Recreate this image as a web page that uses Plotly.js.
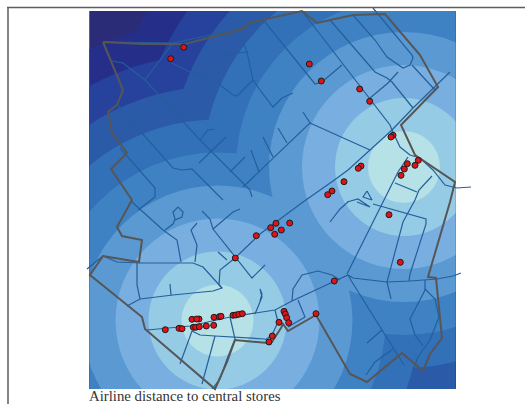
<!DOCTYPE html>
<html><head><meta charset="utf-8">
<script src="https://cdn.plot.ly/plotly-3.0.1.min.js"></script>
<style>html,body{margin:0;padding:0;background:#fff;overflow:hidden}</style></head>
<body><div id="c" style="width:525px;height:404px"></div>
<script>
const chartTitle = "Airline distance to central stores";
const centreX = [404, 217.5];
const centreY = [167, 320.5];
const bandDistance = [400, 300, 267, 234, 201, 168, 135, 102, 69, 36];
const bandColor = ["#2a2c78","#252f8a","#27429c","#2a5aa8","#3270b8","#3e82c4","#5b99d2","#78afe0","#96cbe6","#b6e1e6"];
const storeX = [183.7,170.7,309.3,321.3,359.7,369.7,393,391,361,358.3,344,332,327.7,407.3,404.3,401,418.3,415,270.7,276,289.7,281.3,274.7,389,400.3,334.3,316,284,285.3,286.7,288.7,279,272.3,269,256.3,235.3,165.3,179,182,192,193.3,195.7,199,196.7,199.3,206.3,213.7,214,219.3,221,233,235.7,238.7,242.3];
const storeY = [47.3,58.7,64,81,89,101.3,135.3,137,166,168.3,181.7,191,194.7,163.7,169,175.3,160.3,165.3,227.7,223.3,223,230,234.3,214.7,262.3,281,313.7,311.3,314,317.7,322.7,322.3,336,342,235.7,258,329.7,328.3,328.7,319.3,327.3,327.3,319,319,326.7,326,325.3,317.3,316.7,316.3,315.3,315,314.3,313.7];
const boundaryX = [103,143,185,243,248,265,302,317,353,385,420,438,401,415,455,450,428,436,442,430,423,402,367,350,316,288,283,281,272,268,235,227,215,145,142,90,103,139,142,122,117,132,111,127,112,108,117,123,103];
const boundaryY = [42,44,44,29,23,19,11,23,15,14,55,87,125,155,182,202,277,278,338,354,371,353,382,374,315,331,324,328,342,343,340,362,389,329,317,275,256,262,240,236,227,200,169,153,133,112,105,90,42];
const roadX = [103,173,243,265,null,173,145,200,250,252,null,112,123,145,null,170,190,207,233,237,253,247,238,null,222,247,null,253,260,273,282,293,null,118,173,182,192,223,null,200,208,215,null,199,226,null,230,245,null,243,310,303,null,310,370,null,251,259,null,263,273,null,278,287,null,120,155,155,148,138,null,132,163,177,181,null,265,310,315,322,342,null,302,342,370,390,392,400,410,420,433,445,457,471,null,330,375,387,392,413,null,373,412,413,410,403,387,375,353,null,412,435,null,370,388,398,null,450,413,392,370,348,333,303,260,235,220,219,222,213,173,140,127,null,222,203,193,140,117,103,87,null,137,137,140,null,170,171,null,165,173,175,173,178,183,182,175,null,197,191,197,195,null,202,210,213,252,265,null,213,233,240,null,218,227,null,147,190,230,265,275,292,334,348,353,387,410,437,453,461,null,192,180,null,192,200,215,230,265,null,215,202,null,230,235,227,220,212,null,255,262,260,262,260,null,275,278,272,265,null,292,293,302,318,332,340,null,298,305,288,null,348,352,382,404,null,382,367,null,393,375,366,null,347,375,383,398,408,null,395,417,null,373,408,426,426,410,409,null,432,419,415,403,387,391,null,367,363,372,367,null,347,358,370,357,null,330,340,348,null,425,425,410,415,423,null,425,435,439,430,418,413];
const roadY = [42,43,28,20,null,43,80,140,190,197,null,61,63,80,null,62,72,75,95,96,80,52,30,null,55,52,null,80,90,107,98,93,null,106,168,170,169,200,null,140,130,129,null,163,137,null,172,157,null,187,123,112,null,123,150,null,150,172,null,137,157,null,128,143,null,148,188,197,202,210,null,202,230,240,262,null,22,78,84,82,65,null,11,63,100,125,130,147,155,158,170,185,188,187,null,20,72,78,82,108,null,8,55,58,65,68,57,40,15,null,65,90,null,98,83,72,null,72,108,130,150,170,181,202,234,258,270,285,288,291,295,299,306,null,288,267,263,263,262,256,269,null,263,285,299,null,284,295,null,230,224,219,212,207,212,217,220,null,223,230,245,262,null,211,219,229,278,265,null,229,212,209,null,252,260,null,330,326,317,312,310,301,281,275,278,282,281,279,276,273,null,331,364,null,331,335,336,337,339,null,336,384,null,317,339,359,379,389,null,314,297,289,294,301,null,310,322,335,340,null,301,289,275,271,275,280,null,300,317,327,null,275,282,330,365,null,330,343,null,349,362,375,null,274,219,202,172,157,null,183,192,null,204,214,219,224,274,281,null,176,190,200,222,282,299,null,191,197,200,191,null,202,199,207,202,null,222,209,202,null,280,290,319,335,346,null,289,299,317,340,357,370];

const W = 525, H = 404;
const mapLeft = 89.5, mapRight = 455.5, mapTop = 11, mapBottom = 389;
const shapes = [];
bandColor.forEach((col, i) => {
  centreX.forEach((cx, k) => {
    const r = bandDistance[i], cy = centreY[k];
    shapes.push({type:"circle", xref:"x", yref:"y", x0:cx-r, x1:cx+r, y0:cy-r, y1:cy+r,
      fillcolor:col, line:{width:0}, layer:"below"});
  });
});
shapes.push({type:"line", xref:"x2", yref:"y2", x0:7, x1:525, y0:7.5, y1:7.5, line:{color:"#5e5e5e", width:1.5}});
shapes.push({type:"line", xref:"x2", yref:"y2", x0:8, x1:8, y0:7, y1:404, line:{color:"#5e5e5e", width:1.5}});

const hidden = {visible:false, fixedrange:true};
const layout = {
  width:W, height:H, margin:{l:0,r:0,t:0,b:0,pad:0}, showlegend:false,
  paper_bgcolor:"#ffffff", plot_bgcolor:"rgba(0,0,0,0)",
  xaxis:{...hidden, domain:[mapLeft/W, mapRight/W], range:[mapLeft,mapRight]},
  yaxis:{...hidden, domain:[1-mapBottom/H, 1-mapTop/H], range:[mapBottom,mapTop]},
  xaxis2:{...hidden, domain:[0,1], range:[0,W], anchor:"y2"},
  yaxis2:{...hidden, domain:[0,1], range:[H,0], anchor:"x2"},
  shapes,
  annotations:[{xref:"x2", yref:"y2", x:86.5, y:395.5, xanchor:"left", yanchor:"middle", showarrow:false,
    text:chartTitle, font:{family:"Liberation Serif, serif", size:14.8, color:"#333333"}}]
};
const traces = [
  {type:"scatter", mode:"markers", xaxis:"x", yaxis:"y", x:centreX, y:centreY, marker:{size:1, opacity:0}, hoverinfo:"skip"},
  {type:"scatter", mode:"lines", xaxis:"x2", yaxis:"y2", x:roadX, y:roadY, connectgaps:false, line:{color:"#245f9c", width:1.2}, hoverinfo:"skip"},
  {type:"scatter", mode:"lines", xaxis:"x2", yaxis:"y2", x:boundaryX, y:boundaryY, line:{color:"#565656", width:2}, hoverinfo:"skip"},
  {type:"scatter", mode:"markers", xaxis:"x2", yaxis:"y2", x:storeX, y:storeY, marker:{size:6, color:"#e01218", line:{color:"#1c1c1c", width:1}}, hoverinfo:"skip"}
];
Plotly.newPlot("c", traces, layout, {displayModeBar:false, staticPlot:true});
</script></body></html>
